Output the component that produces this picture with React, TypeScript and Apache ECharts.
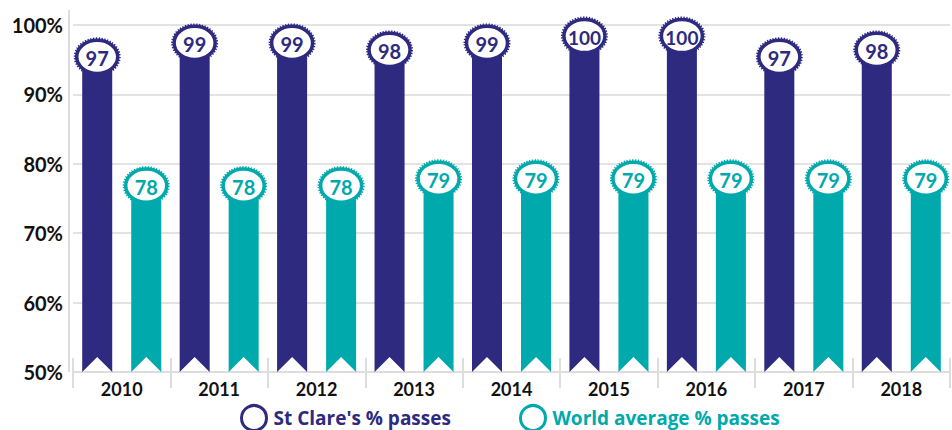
import React, { useEffect, useRef } from "react";
import * as echarts from "echarts";

const years = ["2010", "2011", "2012", "2013", "2014", "2015", "2016", "2017", "2018"];
const stClare = [97, 99, 99, 98, 99, 100, 100, 97, 98];
const worldAvg = [78, 78, 78, 79, 79, 79, 79, 79, 79];
const yTicks = [50, 60, 70, 80, 90, 100];
const seriesNames = ["St Clare's % passes", "World average % passes"];

const NAVY = "#2D2A80";
const TEAL = "#00A9AC";
const FONT = "Lato, 'Open Sans', sans-serif";
const LEGEND_FONT = "'Open Sans', Lato, sans-serif";

function makeRender(sign: number, color: string, badgeOffset: number) {
  return (params: any, api: any) => {
    const xi = api.value(0);
    const v = api.value(1);
    const top = api.coord([xi, v]);
    const base = api.coord([xi, yTicks[0]]);
    const band = api.size([1, 0])[0];
    const bw = band * 0.308;
    const gap = band * 0.195;
    const cx = top[0] + sign * (bw / 2 + gap / 2);
    const yTop = top[1] + badgeOffset;
    const yBot = base[1];
    const notch = 15;
    return {
      type: "group",
      children: [
        {
          type: "polygon",
          shape: {
            points: [
              [cx - bw / 2, yTop],
              [cx + bw / 2, yTop],
              [cx + bw / 2, yBot],
              [cx, yBot - notch],
              [cx - bw / 2, yBot],
            ],
          },
          style: { fill: color },
        },
        {
          type: "ellipse",
          shape: { cx, cy: yTop, rx: 22.5, ry: 18.5 },
          style: { fill: "none", stroke: color, lineWidth: 2, lineDash: [1.3, 1.5] },
        },
        {
          type: "ellipse",
          shape: { cx, cy: yTop, rx: 20.5, ry: 16.6 },
          style: { fill: "#fff", stroke: color, lineWidth: 3.5 },
        },
        {
          type: "text",
          style: {
            text: String(v),
            x: cx,
            y: yTop + 1,
            align: "center",
            verticalAlign: "middle",
            fill: color,
            font: `bold ${v >= 100 ? 19 : 20}px ${FONT}`,
          },
        },
      ],
    };
  };
}

function legendFor(name: string, color: string, left: number) {
  return {
    left,
    top: 404,
    padding: 0,
    itemWidth: 25,
    itemHeight: 25,
    itemGap: 0,
    textStyle: {
      fontFamily: LEGEND_FONT,
      fontSize: 19,
      fontWeight: "bold",
      color,
      lineHeight: 20,
      padding: [0, 0, 0, 2],
    },
    data: [
      {
        name,
        icon: "circle",
        itemStyle: { color: "#fff", borderColor: color, borderWidth: 3 },
        textStyle: { color },
      },
    ],
  };
}

export default function App() {
  const ref = useRef<HTMLDivElement>(null);
  useEffect(() => {
    document.body.style.margin = "0";
    if (!ref.current) return;
    const chart = echarts.init(ref.current, undefined, { renderer: "svg" });
    chart.setOption({
      animation: false,
      backgroundColor: "#fff",
      grid: { left: 73, right: 2, top: 25, bottom: 58 },
      graphic: [
        {
          type: "line",
          shape: { x1: 69, y1: 10, x2: 69, y2: 372 },
          style: { stroke: "#dddddd", lineWidth: 2 },
          z: 0,
        },
      ],
      legend: [legendFor(seriesNames[0], NAVY, 240), legendFor(seriesNames[1], TEAL, 519)],
      xAxis: [
        {
          type: "category",
          data: years,
          boundaryGap: true,
          axisLine: { show: true, lineStyle: { color: "#dddddd", width: 2 } },
          axisTick: { show: true, length: 16, lineStyle: { color: "#dddddd", width: 2 } },
          axisLabel: { color: "#111", fontFamily: FONT, fontSize: 18, fontWeight: "bold", margin: 8 },
        },
        {
          type: "category",
          data: years,
          position: "bottom",
          boundaryGap: true,
          axisLine: { show: false },
          axisTick: { show: true, inside: true, length: 14, lineStyle: { color: "#dddddd", width: 2 } },
          axisLabel: { show: false },
        },
      ],
      yAxis: {
        type: "value",
        min: yTicks[0],
        max: yTicks[yTicks.length - 1],
        interval: 10,
        offset: 4,
        axisLine: { show: false },
        axisTick: { show: false },
        axisLabel: {
          formatter: "{value}%",
          color: "#111",
          fontFamily: FONT,
          fontSize: 20,
          fontWeight: "bold",
          margin: 6,
        },
        splitLine: { lineStyle: { color: "#e3e3e3", width: 2 } },
      },
      series: [
        {
          name: seriesNames[0],
          type: "custom",
          renderItem: makeRender(-1, NAVY, 11),
          encode: { x: 0, y: 1 },
          data: stClare.map((v, i) => [i, v]),
          itemStyle: { color: NAVY },
          z: 3,
        },
        {
          name: seriesNames[1],
          type: "custom",
          renderItem: makeRender(1, TEAL, 8),
          encode: { x: 0, y: 1 },
          data: worldAvg.map((v, i) => [i, v]),
          itemStyle: { color: TEAL },
          z: 3,
        },
      ],
    });
    return () => chart.dispose();
  }, []);
  return <div ref={ref} style={{ width: 952, height: 430 }} />;
}
